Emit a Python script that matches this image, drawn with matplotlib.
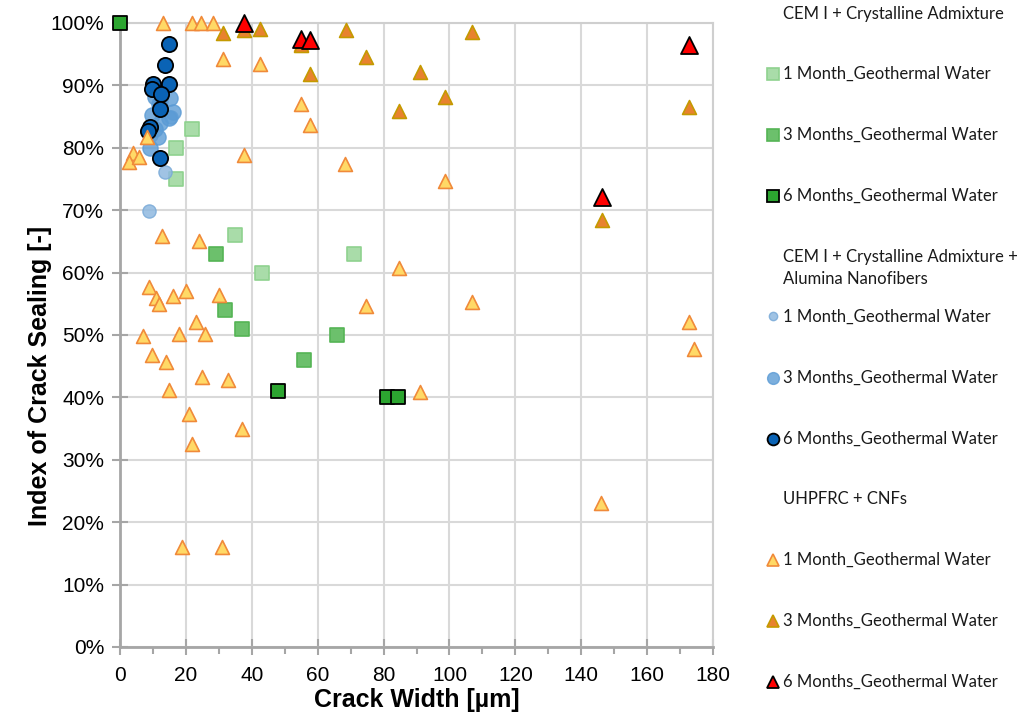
import matplotlib
matplotlib.use("Agg")
import matplotlib.pyplot as plt
from matplotlib.lines import Line2D
from matplotlib.ticker import MultipleLocator, PercentFormatter

# CEM I + Crystalline Admixture (squares)
cem_1m_x = [22, 17, 17, 35, 43, 71]
cem_1m_y = [83, 80, 75, 66, 60, 63]
cem_3m_x = [29, 32, 37, 66, 56]
cem_3m_y = [63, 54, 51, 50, 46]
cem_6m_x = [0, 48, 81, 84.5]
cem_6m_y = [100, 41, 40, 40]

# CEM I + Crystalline Admixture + Alumina Nanofibers (circles)
aln_1m_x = [8.7, 13.7, 15.5, 12.5, 9.5]
aln_1m_y = [69.9, 76.2, 85.0, 87.5, 82.0]
aln_3m_x = [10.6, 15.2, 11.9, 9.6, 16.2, 14.9, 10.6, 11.6, 9.1, 12.0]
aln_3m_y = [88.2, 88.0, 87.0, 85.3, 85.7, 84.7, 83.0, 81.7, 79.9, 84.0]
aln_6m_x = [15.0, 13.7, 9.9, 15.0, 9.8, 12.4, 12.1, 9.1, 8.6, 12.1]
aln_6m_y = [96.6, 93.2, 90.3, 90.3, 89.5, 88.6, 86.2, 83.3, 82.7, 78.4]

# UHPFRC + CNFs (triangles)
uh_1m_x = [13.1, 21.8, 24.6, 28.1, 31.4, 42.6, 37.7, 54.9, 57.6, 68.4,
           8.1, 3.8, 2.8, 5.9, 12.9, 23.9, 8.9, 10.8, 11.9, 16.0,
           20.0, 30.0, 23.0, 6.9, 17.9, 25.8, 9.8, 13.9, 24.9, 32.9,
           14.9, 20.8, 36.9, 21.9, 18.9, 31.0, 84.8, 74.8, 106.7, 91.1,
           172.8, 174.3, 98.5, 146.0, 54.9]
uh_1m_y = [100, 100, 100, 100, 94.3, 93.5, 78.8, 87.0, 83.7, 77.4,
           81.8, 79.2, 77.8, 78.5, 65.8, 65.1, 57.7, 56.0, 55.0, 56.3,
           57.1, 56.4, 52.1, 49.9, 50.2, 50.2, 46.8, 45.7, 43.3, 42.8,
           41.2, 37.4, 35.0, 32.6, 16.0, 16.0, 60.7, 54.7, 55.3, 40.8,
           52.1, 47.8, 74.7, 23.0, 96.7]
uh_3m_x = [31.4, 42.6, 37.7, 54.9, 57.6, 68.5, 74.8, 91.1, 106.7, 84.8,
           98.5, 172.8, 146.4]
uh_3m_y = [98.4, 99.0, 98.8, 96.5, 91.8, 98.8, 94.6, 92.2, 98.5, 85.9,
           88.1, 86.5, 68.4]
uh_6m_x = [37.7, 54.9, 57.6, 172.8, 146.3]
uh_6m_y = [100, 97.4, 97.3, 96.5, 72.1]

plt.rcParams["font.family"] = ["Liberation Sans", "DejaVu Sans"]

W, H = 1023, 716
fig = plt.figure(figsize=(W / 100, H / 100), dpi=100)
ax = fig.add_axes([120 / W, 1 - 647 / H, 593 / W, 624 / H])

# (face, edge, marker, size in scatter, alpha, edge width)
styles = {
    "cem1": ("#a9dca9", "#8fd28f", "s", 90, 1.0, 1.2),
    "cem3": ("#6cc06c", "#55b455", "s", 90, 1.0, 1.2),
    "cem6": ("#2ca530", "black", "s", 90, 1.0, 1.3),
    "aln1": ("#8fb9e0", "#7aaad8", "o", 90, 0.85, 1.0),
    "aln3": ("#5b9bd5", "#5b9bd5", "o", 120, 0.8, 1.0),
    "aln6": ("#0a63b5", "black", "o", 120, 1.0, 1.3),
    "uh1": ("#ffd966", "#f08a3a", "^", 100, 1.0, 1.2),
    "uh3": ("#e8822f", "#c49a00", "^", 100, 1.0, 1.2),
    "uh6": ("#ff0000", "black", "^", 150, 1.0, 1.3),
}
series = [
    ("cem1", cem_1m_x, cem_1m_y), ("cem3", cem_3m_x, cem_3m_y),
    ("cem6", cem_6m_x, cem_6m_y), ("aln1", aln_1m_x, aln_1m_y),
    ("aln3", aln_3m_x, aln_3m_y), ("aln6", aln_6m_x, aln_6m_y),
    ("uh1", uh_1m_x, uh_1m_y), ("uh3", uh_3m_x, uh_3m_y),
    ("uh6", uh_6m_x, uh_6m_y),
]
for key, xs, ys in series:
    fc, ec, m, s, a, lw = styles[key]
    ax.scatter(xs, ys, marker=m, s=s, facecolor=fc, edgecolor=ec,
               linewidth=lw, alpha=a, zorder=3, clip_on=False)

ax.set_xlim(0, 180)
ax.set_ylim(0, 100)
ax.xaxis.set_major_locator(MultipleLocator(20))
ax.xaxis.set_minor_locator(MultipleLocator(10))
ax.yaxis.set_major_locator(MultipleLocator(10))
ax.yaxis.set_major_formatter(PercentFormatter(decimals=0))
ax.grid(True, which="major", color="#d9d9d9", linewidth=1.5, zorder=0)
ax.set_axisbelow(True)

for side in ("left", "bottom"):
    ax.spines[side].set_color("#a6a6a6")
    ax.spines[side].set_linewidth(2)
for side in ("top", "right"):
    ax.spines[side].set_color("#cfcfcf")
    ax.spines[side].set_linewidth(1.5)

ax.tick_params(axis="both", which="major", direction="inout", length=11,
               width=1.5, color="#a6a6a6", labelsize=15, pad=6)
ax.tick_params(axis="x", which="minor", direction="out", length=5,
               width=1.5, color="#a6a6a6")
ax.tick_params(axis="x", which="major", pad=8)

ax.set_xlabel("Crack Width [µm]", fontsize=18, fontweight="bold")
ax.xaxis.set_label_coords(0.5, (647 - 688) / 624)
ax.set_ylabel("Index of Crack Sealing [-]", fontsize=18, fontweight="bold")
ax.yaxis.set_label_coords((52 - 120) / 593, (647 - 376) / 624)

# legend, laid out row by row like the original
legend_rows = [
    (None, "CEM I + Crystalline Admixture", 19),
    ("cem1", "1 Month_Geothermal Water", 79),
    ("cem3", "3 Months_Geothermal Water", 140),
    ("cem6", "6 Months_Geothermal Water", 201),
    (None, "CEM I + Crystalline Admixture +", 262),
    (None, "Alumina Nanofibers", 284),
    ("aln1", "1 Month_Geothermal Water", 322),
    ("aln3", "3 Months_Geothermal Water", 383),
    ("aln6", "6 Months_Geothermal Water", 444),
    (None, "UHPFRC + CNFs", 504),
    ("uh1", "1 Month_Geothermal Water", 565),
    ("uh3", "3 Months_Geothermal Water", 626),
    ("uh6", "6 Months_Geothermal Water", 687),
]
leg_ms = {"cem1": 8, "cem3": 8, "cem6": 8, "aln1": 6, "aln3": 8.5,
          "aln6": 8.5, "uh1": 8.5, "uh3": 8.5, "uh6": 8.5}
for key, text, base in legend_rows:
    fig.text(783 / W, 1 - base / H, text, ha="left", va="baseline",
             fontsize=12, family=["Lato", "DejaVu Sans"], color="#1a1a1a")
    if key:
        fc, ec, m, s, a, lw = styles[key]
        fig.add_artist(Line2D([773 / W], [1 - (base - 5.5) / H],
                              transform=fig.transFigure, linestyle="none",
                              marker=m, markersize=leg_ms[key],
                              markerfacecolor=fc, markeredgecolor=ec,
                              markeredgewidth=lw, alpha=a))

fig.savefig("out.png", dpi=100)
